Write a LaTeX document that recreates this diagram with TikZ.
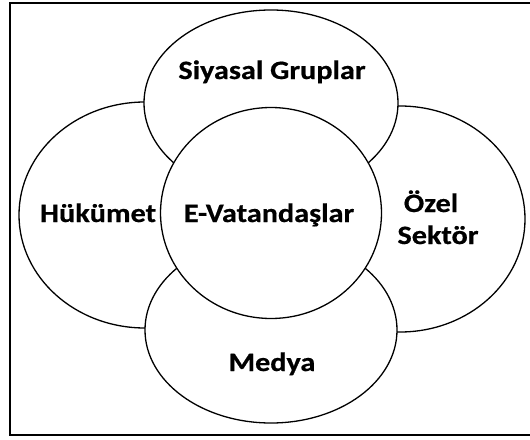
\documentclass[tikz,border=0pt]{standalone}
\usepackage{fontspec}
\setmainfont{Carlito}[FakeStretch=1.14,BoldFeatures={FakeBold=0.6}]
\usetikzlibrary{shapes.geometric}
\begin{document}
\begin{tikzpicture}[x=1pt,y=-1pt,
  blob/.style={draw=black,fill=white,line width=1.3pt},
  lbl/.style={font=\bfseries\fontsize{26.5}{32}\selectfont,inner sep=0pt,anchor=base}]
\useasboundingbox (0,0) rectangle (530,439);
\draw[line width=2pt] (9.7,3) rectangle (540,435);
% outer ellipses
\path[blob] (145,215) ellipse [x radius=126, y radius=113];
\path[blob] (400,219) ellipse [x radius=125, y radius=113];
\path[blob] (271,103) ellipse [x radius=127, y radius=93];
\path[blob] (271,330) ellipse [x radius=126, y radius=93];
% center
\path[blob] (271,213) ellipse [x radius=110.5, y radius=105.5];
\node[lbl] (sg) at (272,79) {Siyasal Gruplar};
\node[lbl] (hk) at (98,222) {Hükümet};
\node[lbl] (ev) at (269,222) {E-Vatandaşlar};
\node[lbl] (oz) at (431,212) {Özel};
\node[lbl] (sk) at (438,244) {Sektör};
\node[lbl] (md) at (272,371) {Medya};
\end{tikzpicture}
\end{document}
